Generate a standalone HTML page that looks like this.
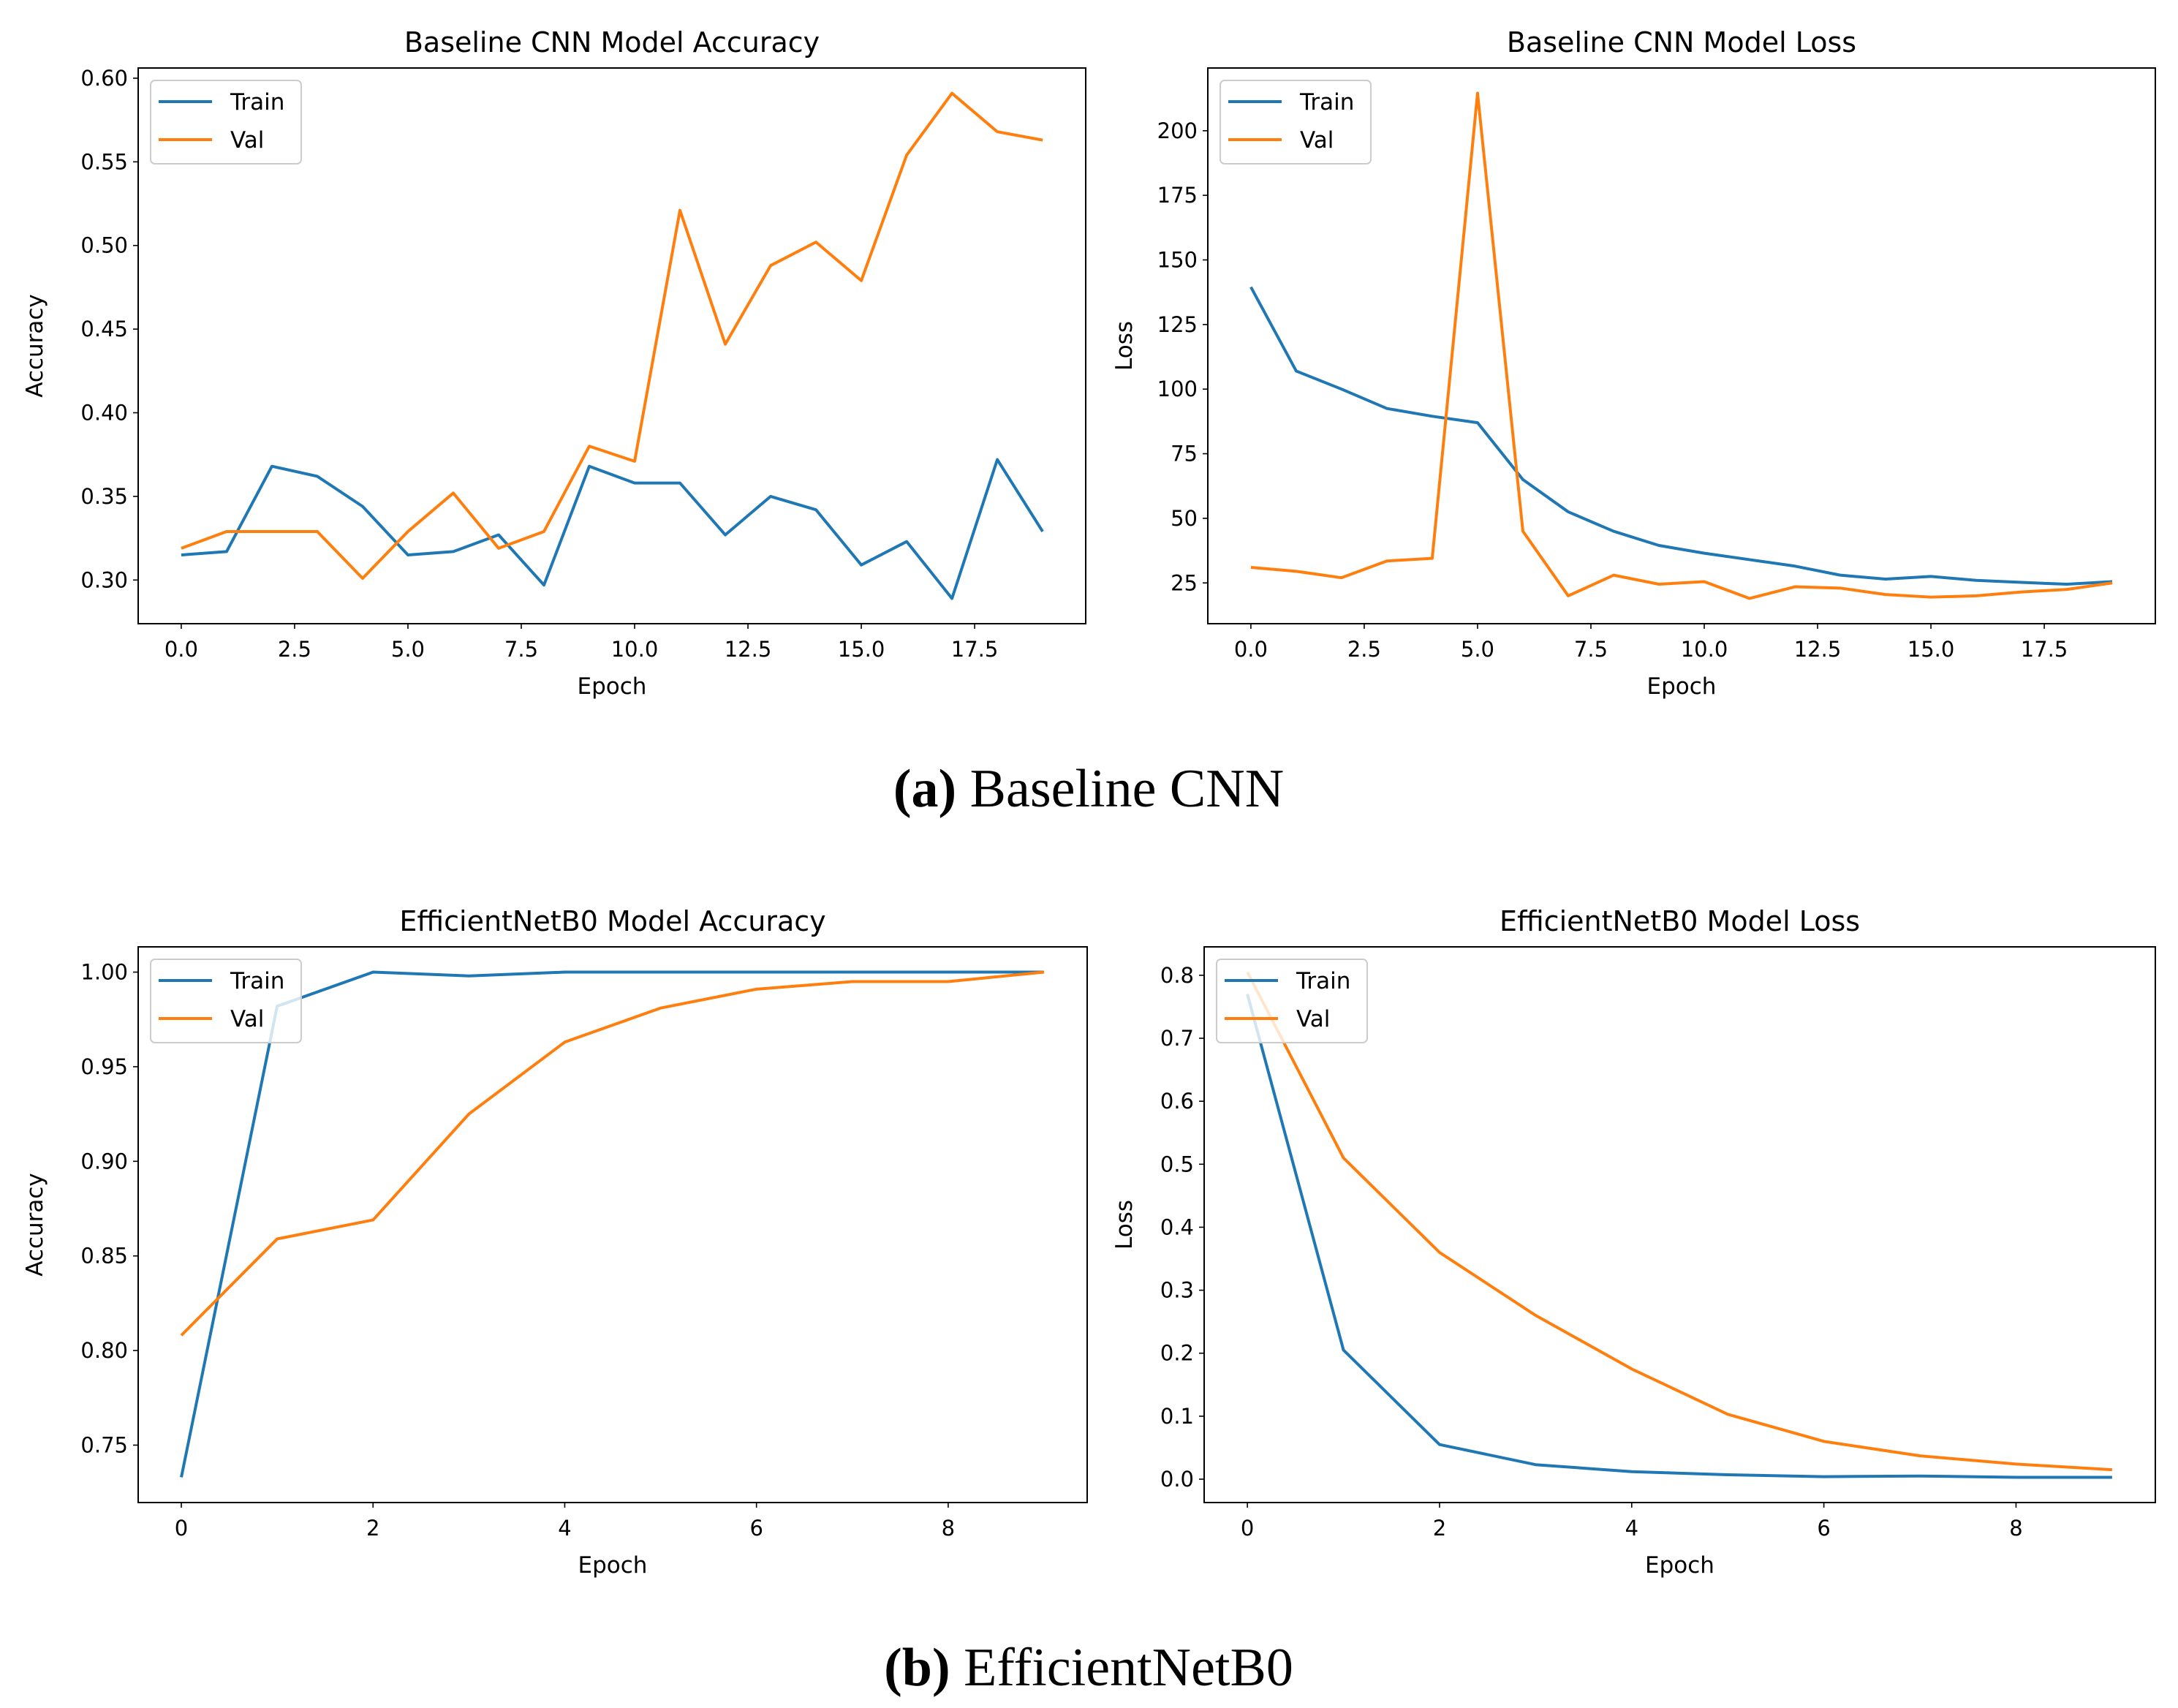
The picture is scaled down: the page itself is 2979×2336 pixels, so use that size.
<!DOCTYPE html>
<html><head><meta charset="utf-8"><style>
html,body{margin:0;padding:0;background:#fff;}
svg{display:block;}
text{font-family:"DejaVu Sans","Liberation Sans",sans-serif;fill:#000;}
.cap{font-family:"Liberation Serif",serif;}
</style></head><body>
<svg id="fig" width="2979" height="2336" viewBox="0 0 2979 2336" xmlns="http://www.w3.org/2000/svg">
<text class="cap" x="1489" y="1103" font-size="74" text-anchor="middle"><tspan font-weight="bold">(a)</tspan> Baseline CNN</text>
<text class="cap" x="1489" y="2305" font-size="74" text-anchor="middle"><tspan font-weight="bold">(b)</tspan> EfficientNetB0</text>
</svg>
<script>
const cnnEpochs = [0,1,2,3,4,5,6,7,8,9,10,11,12,13,14,15,16,17,18,19];
const cnnAccTrain = [0.315,0.317,0.368,0.362,0.344,0.315,0.317,0.327,0.297,0.368,0.358,0.358,0.327,0.350,0.342,0.309,0.323,0.289,0.372,0.329];
const cnnAccVal = [0.319,0.329,0.329,0.329,0.301,0.329,0.352,0.319,0.329,0.380,0.371,0.521,0.441,0.488,0.502,0.479,0.554,0.591,0.568,0.563];
const cnnLossTrain = [139.5,107,100,92.5,89.5,87,65,52.5,45,39.5,36.5,34,31.5,28,26.5,27.5,26,25.2,24.5,25.5];
const cnnLossVal = [31,29.5,27,33.5,34.5,214.5,45,20,28,24.5,25.5,19,23.5,23,20.5,19.5,20,21.5,22.5,25];
const effEpochs = [0,1,2,3,4,5,6,7,8,9];
const effAccTrain = [0.733,0.982,1.0,0.998,1.0,1.0,1.0,1.0,1.0,1.0];
const effAccVal = [0.808,0.859,0.869,0.925,0.963,0.981,0.991,0.995,0.995,1.0];
const effLossTrain = [0.77,0.205,0.055,0.023,0.012,0.007,0.004,0.005,0.003,0.003];
const effLossVal = [0.805,0.51,0.36,0.26,0.175,0.103,0.06,0.037,0.024,0.015];
const cnnXTicks = [0,2.5,5,7.5,10,12.5,15,17.5];
const cnnXTickLabels = ["0.0","2.5","5.0","7.5","10.0","12.5","15.0","17.5"];
const effXTicks = [0,2,4,6,8];
const effXTickLabels = ["0","2","4","6","8"];
const cnnAccYTicks = [0.30,0.35,0.40,0.45,0.50,0.55,0.60];
const cnnAccYLabels = ["0.30","0.35","0.40","0.45","0.50","0.55","0.60"];
const cnnLossYTicks = [25,50,75,100,125,150,175,200];
const cnnLossYLabels = ["25","50","75","100","125","150","175","200"];
const effAccYTicks = [0.75,0.80,0.85,0.90,0.95,1.00];
const effAccYLabels = ["0.75","0.80","0.85","0.90","0.95","1.00"];
const effLossYTicks = [0,0.1,0.2,0.3,0.4,0.5,0.6,0.7,0.8];
const effLossYLabels = ["0.0","0.1","0.2","0.3","0.4","0.5","0.6","0.7","0.8"];

const NS="http://www.w3.org/2000/svg";
const svg=document.getElementById('fig');
function mk(tag,attrs,parent){const e=document.createElementNS(NS,tag);for(const k in attrs)e.setAttribute(k,attrs[k]);(parent||svg).appendChild(e);return e;}

const panels=[
 {id:'cnn-accuracy',title:'Baseline CNN Model Accuracy',ylabel:'Accuracy',x0:189,x1:1485,y0:93,y1:853,xs:cnnEpochs,tr:cnnAccTrain,va:cnnAccVal,xt:cnnXTicks,xl:cnnXTickLabels,yt:cnnAccYTicks,yl:cnnAccYLabels,ylx:58},
 {id:'cnn-loss',title:'Baseline CNN Model Loss',ylabel:'Loss',x0:1652,x1:2948,y0:93,y1:853,xs:cnnEpochs,tr:cnnLossTrain,va:cnnLossVal,xt:cnnXTicks,xl:cnnXTickLabels,yt:cnnLossYTicks,yl:cnnLossYLabels,ylx:1548},
 {id:'eff-accuracy',title:'EfficientNetB0 Model Accuracy',ylabel:'Accuracy',x0:189,x1:1487,y0:1295,y1:2055,xs:effEpochs,tr:effAccTrain,va:effAccVal,xt:effXTicks,xl:effXTickLabels,yt:effAccYTicks,yl:effAccYLabels,ylx:58},
 {id:'eff-loss',title:'EfficientNetB0 Model Loss',ylabel:'Loss',x0:1647,x1:2948,y0:1295,y1:2055,xs:effEpochs,tr:effLossTrain,va:effLossVal,xt:effXTicks,xl:effXTickLabels,yt:effLossYTicks,yl:effLossYLabels,ylx:1548}
];

panels.forEach(p=>{
  const g=mk('g',{});
  
  
  const xmin=Math.min(...p.xs),xmax=Math.max(...p.xs),xr=xmax-xmin;
  const all=p.tr.concat(p.va);const ymin=Math.min(...all),ymax=Math.max(...all),yr=ymax-ymin;
  const lx=xmin-0.05*xr,hx=xmax+0.05*xr,ly=ymin-0.05*yr,hy=ymax+0.05*yr;
  const X=v=>p.x0+(v-lx)/(hx-lx)*(p.x1-p.x0);
  const Y=v=>p.y1-(v-ly)/(hy-ly)*(p.y1-p.y0);
  const t=mk('text',{x:(p.x0+p.x1)/2,y:p.y0-22,'font-size':38,'text-anchor':'middle'},g);t.textContent=p.title;
  
  
  p.xt.forEach((v,i)=>{
    const l=mk('line',{x1:X(v),x2:X(v),y1:p.y1,y2:p.y1+7,stroke:'#000','stroke-width':1.6},g);
    
    
    const tx=mk('text',{x:X(v),y:p.y1+45,'font-size':29,'text-anchor':'middle'},g);tx.textContent=p.xl[i];
    
    
  });
  p.yt.forEach((v,i)=>{
    const l=mk('line',{x1:p.x0-7,x2:p.x0,y1:Y(v),y2:Y(v),stroke:'#000','stroke-width':1.6},g);
    
    
    const tx=mk('text',{x:p.x0-14,y:Y(v)+10,'font-size':29,'text-anchor':'end'},g);tx.textContent=p.yl[i];
    
    
  });
  const xlab=mk('text',{x:(p.x0+p.x1)/2,y:p.y1+96,'font-size':31,'text-anchor':'middle'},g);xlab.textContent='Epoch';
  
  
  const cy=(p.y0+p.y1)/2;
  const ylab=mk('text',{x:p.ylx,y:cy,'font-size':31,'text-anchor':'middle',transform:`rotate(-90 ${p.ylx} ${cy})`},g);ylab.textContent=p.ylabel;
  
  
  [[p.tr,'#1f77b4','train'],[p.va,'#ff7f0e','val']].forEach(([d,c,n])=>{
    const pl=mk('polyline',{points:d.map((v,i)=>X(p.xs[i])+','+Y(v)).join(' '),fill:'none',stroke:c,'stroke-width':4,'stroke-linejoin':'round'},g);
    
    
  });
  const fr=mk('rect',{x:p.x0,y:p.y0,width:p.x1-p.x0,height:p.y1-p.y0,fill:'none',stroke:'#000','stroke-width':2},g);
  
  
  const lg=mk('g',{},g);
  
  
  const lx0=p.x0+17,ly0=p.y0+17;
  mk('rect',{x:lx0,y:ly0,width:206,height:114,rx:6,fill:'#fff','fill-opacity':0.8,stroke:'#ccc','stroke-width':2},lg);
  [['Train','#1f77b4'],['Val','#ff7f0e']].forEach(([n,c],i)=>{
    const yy=ly0+29+i*52;
    const e=mk('line',{x1:lx0+11,x2:lx0+84,y1:yy,y2:yy,stroke:c,'stroke-width':4},lg);
    
    
    const tx=mk('text',{x:lx0+109,y:yy+11,'font-size':31},lg);tx.textContent=n;
    
    
  });
});
</script>
</body></html>
